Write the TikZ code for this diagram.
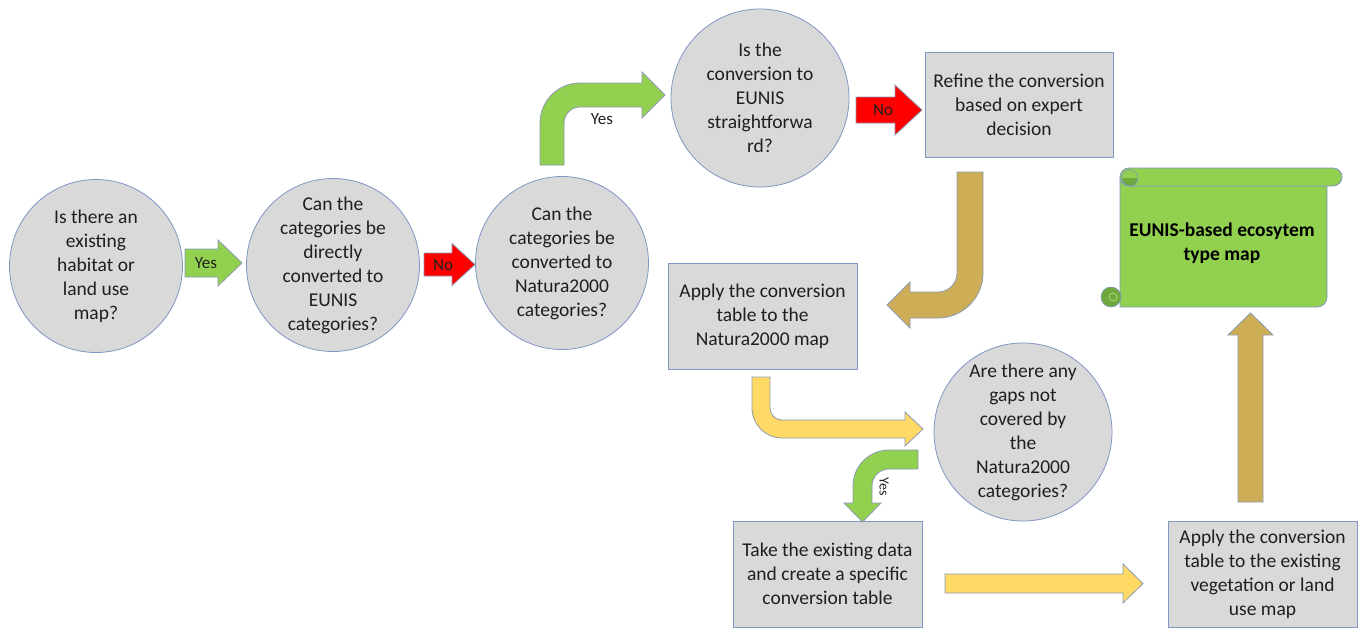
\documentclass[tikz,border=0pt]{standalone}
\usepackage{fontspec}
\setmainfont{Carlito}

\definecolor{boxgrey}{HTML}{D9D9D9}
\definecolor{edgeblue}{RGB}{128,150,196}
\definecolor{arrowedge}{RGB}{140,154,180}
\definecolor{okgreen}{HTML}{92D050}
\definecolor{rolldark}{HTML}{6FA83E}
\definecolor{stopred}{HTML}{FF0000}
\definecolor{tan}{HTML}{CDAE57}
\definecolor{lightyellow}{HTML}{FFD966}

% horizontal block arrow: style, x start, x tip, y centre, shaft half, head half, head length
\newcommand\HArrow[7]{%
  \draw[#1] ({#2},{#4-#5}) -- ({#3-#7},{#4-#5}) -- ({#3-#7},{#4-#6}) -- ({#3},{#4})
    -- ({#3-#7},{#4+#6}) -- ({#3-#7},{#4+#5}) -- ({#2},{#4+#5}) -- cycle;}

\begin{document}
\begin{tikzpicture}[x=1pt,y=-1pt,
  every node/.style={font=\fontsize{19.5}{24}\selectfont, text=black!88, align=center},
  decision/.style={circle, draw=edgeblue, line width=0.8pt, fill=boxgrey, inner sep=0pt},
  process/.style={rectangle, draw=edgeblue, line width=0.8pt, fill=boxgrey, inner sep=0pt},
  blockarrow/.style={draw=arrowedge, line width=0.8pt, line join=miter},
  tag/.style={font=\fontsize{17}{20}\selectfont, inner sep=0pt}
]
\useasboundingbox (0,0) rectangle (1360,629);

% ---- decisions and steps ----
\node[decision, minimum size=173pt] (haveMap) at (96,266)
  {Is there an\\existing\\habitat or\\land use\\map?};
\node[decision, minimum size=173pt] (direct) at (333,265)
  {Can the\\categories be\\directly\\converted to\\EUNIS\\categories?};
\node[decision, minimum size=173pt] (natura) at (562,263)
  {Can the\\categories be\\converted to\\Natura2000\\categories?};
\node[decision, minimum size=178pt] (simple) at (760,98)
  {Is the\\conversion to\\EUNIS\\straightforwa\\rd?};
\node[decision, minimum size=178pt] (gaps) at (1023,432)
  {Are there any\\gaps not\\covered by\\the\\Natura2000\\categories?};

\node[process, minimum width=188pt, minimum height=105pt] (refine) at (1019,104.5)
  {Refine the conversion\\based on expert\\decision};
\node[process, minimum width=189pt, minimum height=106pt] (applyN) at (762.5,316)
  {Apply the conversion\\table to the\\Natura2000 map};
\node[process, minimum width=189pt, minimum height=106pt] (create) at (827.5,574)
  {Take the existing data\\and create a specific\\conversion table};
\node[process, minimum width=189pt, minimum height=106pt] (applyV) at (1262.5,574)
  {Apply the conversion\\table to the existing\\vegetation or land\\use map};

% ---- result scroll ----
\draw[fill=okgreen, draw=edgeblue, line width=0.8pt]
  (1120,177) -- (1120,307) -- (1317,307) .. controls (1322.5,307) and (1327,302.5) .. (1327,297)
  -- (1327,186) -- cycle;
\draw[fill=okgreen, draw=edgeblue, line width=0.8pt]
  (1129,168) -- (1333,168) .. controls (1338,168) and (1342,172) .. (1342,177)
  .. controls (1342,182) and (1338,186) .. (1333,186) -- (1129,186)
  .. controls (1124,186) and (1120,182) .. (1120,177)
  .. controls (1120,172) and (1124,168) .. (1129,168) -- cycle;
\begin{scope}
  \clip (1120,178) rectangle (1140,190);
  \fill[rolldark] (1130,178) circle[radius=8];
\end{scope}
\draw[edgeblue, line width=0.6pt] (1130,178) circle[radius=8];
\fill[rolldark] (1111,297) circle[radius=10];
\draw[edgeblue, line width=0.6pt] (1111,297) circle[radius=10];
\draw[okgreen!80!white, line width=0.8pt] (1113,297) circle[radius=4];
\node[font=\bfseries\fontsize{19.5}{24}\selectfont, text=black] (result) at (1222,243)
  {EUNIS-based ecosytem\\type map};

% ---- straight block arrows ----
\HArrow{blockarrow, fill=okgreen}{185}{242}{263}{14}{23}{24}
\node[tag] (yesA) at (206,263) {Yes};

\HArrow{blockarrow, fill=stopred}{424}{475}{264.5}{11.5}{21}{23}
\node[tag] (noA) at (443,265) {No};

\HArrow{blockarrow, fill=stopred}{856}{922}{110}{13}{25}{27}
\node[tag] (noB) at (883,110) {No};

\HArrow{blockarrow, fill=lightyellow}{945}{1143}{583.5}{9.5}{19.5}{20}

\draw[blockarrow, fill=tan]
  (1238,502) -- (1238,335) -- (1228,335) -- (1250.5,313) -- (1273,335)
  -- (1263,335) -- (1263,502) -- cycle;

% ---- bent block arrows ----
% up from the Natura2000 question, then right
\draw[blockarrow, fill=okgreen]
  (540,165) -- (540,123) .. controls (540,100.9) and (557.9,83) .. (580,83)
  -- (642,83) -- (642,72) -- (665,95) -- (642,118) -- (642,107) -- (580,107)
  .. controls (571.2,107) and (564,114.2) .. (564,123) -- (564,165) -- cycle;
\node[tag] (yesB) at (602,119) {Yes};

% down from the refinement, then left
\draw[blockarrow, fill=tan]
  (957,172) -- (983,172) -- (983,273) .. controls (983,297.8) and (962.8,318) .. (938,318)
  -- (910,318) -- (910,328) -- (887,305) -- (910,282) -- (910,292) -- (938,292)
  .. controls (948.5,292) and (957,283.5) .. (957,273) -- cycle;

% down from the Natura2000 map, then right
\draw[blockarrow, fill=lightyellow]
  (752,377) -- (770,377) -- (770,408) .. controls (770,414.6) and (775.4,420) .. (782,420)
  -- (905,420) -- (905,412) -- (923,429) -- (905,446) -- (905,438) -- (782,438)
  .. controls (765.4,438) and (752,424.6) .. (752,408) -- cycle;

% left from the gaps question, then down
\draw[blockarrow, fill=okgreen]
  (918,450) -- (889,450) .. controls (869.1,450) and (853,466.1) .. (853,486)
  -- (853,503) -- (844,503) -- (862.5,522) -- (881,503) -- (872,503) -- (872,486)
  .. controls (872,476.6) and (879.6,469) .. (889,469) -- (918,469) -- cycle;
\node[tag, rotate=-90, font=\fontsize{14}{16}\selectfont] (yesC) at (884,487) {Yes};

\end{tikzpicture}
\end{document}
